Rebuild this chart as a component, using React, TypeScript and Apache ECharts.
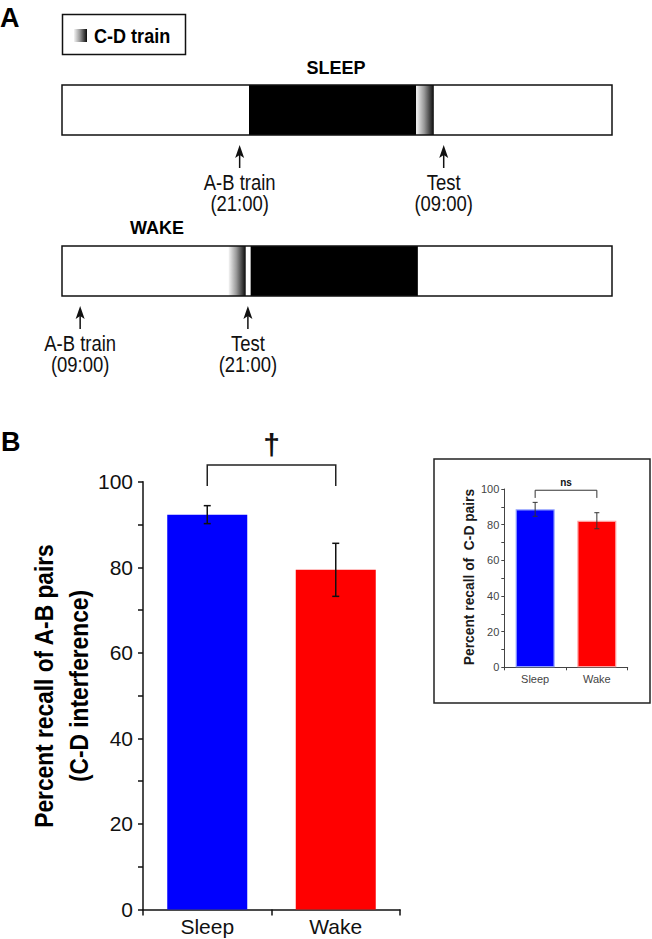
import React, { useEffect, useRef } from 'react';
import * as echarts from 'echarts';

// ---------- data ----------
const groups = ['Sleep', 'Wake'];
// Panel B main: percent recall of A-B pairs (C-D interference)
const abRecall = [92.3, 79.4];
const abSem = [2.1, 6.2];
// Inset: percent recall of C-D pairs
const cdRecall = [88.6, 82.2];
const cdSem = [3.9, 4.5];

// significance brackets (values on the y scale)
const abBracket = { top: 103.9, leg: 99, labelAt: 108.6, label: '\u2020' };
const cdBracket = { top: 99.3, leg: 95, labelAt: 103.6, label: 'ns' };

// Panel A schematic timelines (positions in % of the bar length)
const sleepSegments = [
  { start: 0, end: 100, kind: 'day' },
  { start: 34.0, end: 64.4, kind: 'night' },
  { start: 64.4, end: 67.6, kind: 'cdTrain' },
];
const wakeSegments = [
  { start: 0, end: 100, kind: 'day' },
  { start: 30.3, end: 33.4, kind: 'cdTrain' },
  { start: 34.3, end: 64.7, kind: 'night' },
];
const sleepArrows = [
  { pos: 32.3, label: 'A-B train', time: '(21:00)' },
  { pos: 69.4, label: 'Test', time: '(09:00)' },
];
const wakeArrows = [
  { pos: 3.3, label: 'A-B train', time: '(09:00)' },
  { pos: 33.8, label: 'Test', time: '(21:00)' },
];

// ---------- styles ----------
const NARROW = '"Liberation Sans Narrow", "Liberation Sans", Arial, sans-serif';
const SANS = '"Liberation Sans", Arial, sans-serif';
const INK = '#111111';

const cdGradient = () =>
  new echarts.graphic.LinearGradient(0, 0, 1, 0, [
    { offset: 0, color: '#f4f4f4' },
    { offset: 0.45, color: '#9a9a9a' },
    { offset: 1, color: '#0a0a0a' },
  ]);

function timelineRender(segs: any[]) {
  return (params: any, api: any) => {
    const seg = segs[params.dataIndex];
    const p0 = api.coord([seg.start, 1]);
    const p1 = api.coord([seg.end, 0]);
    const shape = { x: p0[0], y: p0[1], width: p1[0] - p0[0], height: p1[1] - p0[1] };
    if (seg.kind === 'day') {
      return {
        type: 'rect',
        shape,
        z2: 10,
        style: { fill: 'rgba(0,0,0,0)', stroke: INK, lineWidth: 1.5 },
      };
    }
    if (seg.kind === 'night') {
      return { type: 'rect', shape, z2: 2, style: { fill: '#000000' } };
    }
    return { type: 'rect', shape, z2: 2, style: { fill: cdGradient() } };
  };
}

function arrowRender(arrows: any[]) {
  return (params: any, api: any) => {
    const a = arrows[params.dataIndex];
    const p = api.coord([a.pos, 0]);
    const x = p[0];
    const y0 = p[1];
    const tip = y0 + 10;
    return {
      type: 'group',
      children: [
        {
          type: 'line',
          shape: { x1: x, y1: tip + 8, x2: x, y2: y0 + 33 },
          style: { stroke: INK, lineWidth: 1.5 },
        },
        {
          type: 'polygon',
          shape: { points: [[x, tip], [x - 4.5, tip + 13], [x, tip + 10], [x + 4.5, tip + 13]] },
          style: { fill: INK },
        },
        {
          type: 'text',
          x,
          y: y0 + 58,
          scaleX: 0.84,
          style: {
            text: a.label + '\n' + a.time,
            fill: INK,
            font: `22px ${NARROW}`,
            lineHeight: 21.5,
            align: 'center',
            verticalAlign: 'middle',
          },
        },
      ],
    };
  };
}

function errorRender(means: number[], sems: number[], cap: number, lw: number, color: string) {
  return (params: any, api: any) => {
    const i = params.dataIndex;
    const hi = api.coord([i, means[i] + sems[i]]);
    const lo = api.coord([i, means[i] - sems[i]]);
    const x = hi[0];
    return {
      type: 'group',
      children: [
        { type: 'line', shape: { x1: x, y1: hi[1], x2: x, y2: lo[1] }, style: { stroke: color, lineWidth: lw } },
        { type: 'line', shape: { x1: x - cap, y1: hi[1], x2: x + cap, y2: hi[1] }, style: { stroke: color, lineWidth: lw } },
        { type: 'line', shape: { x1: x - cap, y1: lo[1], x2: x + cap, y2: lo[1] }, style: { stroke: color, lineWidth: lw } },
      ],
    };
  };
}

function bracketRender(b: any, lw: number, color: string, font: string) {
  return (params: any, api: any) => {
    const l = api.coord([0, b.top]);
    const r = api.coord([1, b.top]);
    const legL = api.coord([0, b.leg]);
    const lab = api.coord([0.5, b.labelAt]);
    return {
      type: 'group',
      children: [
        {
          type: 'polyline',
          shape: { points: [[l[0], legL[1]], [l[0], l[1]], [r[0], r[1]], [r[0], legL[1]]] },
          style: { stroke: color, lineWidth: lw, fill: null },
        },
        {
          type: 'text',
          x: (l[0] + r[0]) / 2,
          y: lab[1],
          style: { text: b.label, fill: INK, font, align: 'center', verticalAlign: 'middle' },
        },
      ],
    };
  };
}

function buildOption() {
  const hiddenVal = (gridIndex: number, min: number, max: number) => ({
    type: 'value',
    gridIndex,
    min,
    max,
    show: false,
  });
  return {
    animation: false,
    backgroundColor: '#ffffff',
    grid: [
      { left: 62, top: 85, width: 550, height: 50 },
      { left: 62, top: 246, width: 550, height: 50 },
      { left: 143, top: 481.7, width: 257, height: 427.8 },
      { left: 504.3, top: 489, width: 123.4, height: 178.3 },
    ],
    xAxis: [
      hiddenVal(0, 0, 100),
      hiddenVal(1, 0, 100),
      {
        type: 'category',
        gridIndex: 2,
        data: groups,
        axisLine: { lineStyle: { color: INK, width: 1.5 } },
        axisTick: { show: true, length: 6, lineStyle: { color: INK, width: 1.5 } },
        axisLabel: { color: INK, fontFamily: NARROW, fontSize: 21, margin: 6 },
      },
      {
        type: 'category',
        gridIndex: 3,
        data: groups,
        axisLine: { lineStyle: { color: '#444', width: 1 } },
        axisTick: { show: true, length: 3, lineStyle: { color: '#444', width: 1 } },
        axisLabel: { color: '#444', fontFamily: SANS, fontSize: 11, margin: 6 },
      },
    ],
    yAxis: [
      hiddenVal(0, 0, 1),
      hiddenVal(1, 0, 1),
      {
        type: 'value',
        gridIndex: 2,
        min: 0,
        max: 100,
        interval: 10,
        splitLine: { show: false },
        axisLine: { show: true, lineStyle: { color: INK, width: 1.5 } },
        axisTick: { show: true, length: 5, lineStyle: { color: INK, width: 1.5 } },
        axisLabel: {
          color: INK,
          fontFamily: NARROW,
          fontSize: 21,
          margin: 10,
          formatter: (v: number) => (v % 20 === 0 ? String(v) : ''),
        },
      },
      {
        type: 'value',
        gridIndex: 3,
        min: 0,
        max: 100,
        interval: 10,
        splitLine: { show: false },
        axisLine: { show: true, lineStyle: { color: '#444', width: 1 } },
        axisTick: { show: true, length: 3, lineStyle: { color: '#444', width: 1 } },
        axisLabel: {
          color: '#444',
          fontFamily: NARROW,
          fontSize: 11,
          margin: 5,
          formatter: (v: number) => (v % 20 === 0 ? String(v) : ''),
        },
      },
    ],
    series: [
      {
        type: 'custom',
        xAxisIndex: 0,
        yAxisIndex: 0,
        renderItem: timelineRender(sleepSegments),
        data: sleepSegments.map((s) => [s.start, s.end]),
        encode: { x: [0, 1] },
        silent: true,
      },
      {
        type: 'custom',
        xAxisIndex: 0,
        yAxisIndex: 0,
        renderItem: arrowRender(sleepArrows),
        data: sleepArrows.map((a) => [a.pos]),
        encode: { x: 0 },
        silent: true,
      },
      {
        type: 'custom',
        xAxisIndex: 1,
        yAxisIndex: 1,
        renderItem: timelineRender(wakeSegments),
        data: wakeSegments.map((s) => [s.start, s.end]),
        encode: { x: [0, 1] },
        silent: true,
      },
      {
        type: 'custom',
        xAxisIndex: 1,
        yAxisIndex: 1,
        renderItem: arrowRender(wakeArrows),
        data: wakeArrows.map((a) => [a.pos]),
        encode: { x: 0 },
        silent: true,
      },
      {
        type: 'bar',
        xAxisIndex: 2,
        yAxisIndex: 2,
        barWidth: 80,
        data: abRecall.map((v, i) => ({
          value: v,
          itemStyle: { color: i === 0 ? '#0000ff' : '#ff0000' },
        })),
      },
      {
        type: 'custom',
        xAxisIndex: 2,
        yAxisIndex: 2,
        renderItem: errorRender(abRecall, abSem, 3.5, 1.5, INK),
        data: abRecall.map((v, i) => [i, v]),
        z: 5,
      },
      {
        type: 'custom',
        xAxisIndex: 2,
        yAxisIndex: 2,
        renderItem: bracketRender(abBracket, 1.5, '#222', `bold 30px ${SANS}`),
        data: [[0, abBracket.top]],
      },
      {
        type: 'bar',
        xAxisIndex: 3,
        yAxisIndex: 3,
        barWidth: 39,
        data: cdRecall.map((v, i) => ({
          value: v,
          itemStyle: {
            color: i === 0 ? '#0000ff' : '#ff0000',
            borderColor: i === 0 ? '#8c9cff' : '#ff9d9d',
            borderWidth: 1.2,
          },
        })),
      },
      {
        type: 'custom',
        xAxisIndex: 3,
        yAxisIndex: 3,
        renderItem: errorRender(cdRecall, cdSem, 2.5, 1, '#333'),
        data: cdRecall.map((v, i) => [i, v]),
        z: 5,
      },
      {
        type: 'custom',
        xAxisIndex: 3,
        yAxisIndex: 3,
        renderItem: bracketRender(cdBracket, 1, '#333', `bold 10px ${SANS}`),
        data: [[0, cdBracket.top]],
      },
    ],
    graphic: [
      { type: 'text', x: 0, y: 4, style: { text: 'A', fill: '#000', font: `bold 27px ${SANS}` } },
      {
        type: 'rect',
        shape: { x: 62.5, y: 14.5, width: 123, height: 40 },
        style: { fill: '#fff', stroke: INK, lineWidth: 1.5 },
      },
      {
        type: 'rect',
        shape: { x: 74, y: 29, width: 13, height: 13 },
        style: { fill: cdGradient() },
      },
      {
        type: 'text',
        x: 94,
        y: 35.5,
        scaleX: 0.86,
        style: { text: 'C-D train', fill: '#000', font: `bold 21px ${NARROW}`, verticalAlign: 'middle' },
      },
      {
        type: 'text',
        x: 336,
        y: 68,
        style: { text: 'SLEEP', fill: '#000', font: `bold 18px ${SANS}`, align: 'center', verticalAlign: 'middle' },
      },
      {
        type: 'text',
        x: 157,
        y: 228,
        style: { text: 'WAKE', fill: '#000', font: `bold 18px ${SANS}`, align: 'center', verticalAlign: 'middle' },
      },
      { type: 'text', x: 1, y: 428, style: { text: 'B', fill: '#000', font: `bold 27px ${SANS}` } },
      {
        type: 'text',
        x: 44,
        y: 686,
        rotation: Math.PI / 2,
        scaleX: 0.91,
        style: {
          text: 'Percent recall of A-B pairs',
          fill: '#000',
          font: `bold 25px ${NARROW}`,
          align: 'center',
          verticalAlign: 'middle',
        },
      },
      {
        type: 'text',
        x: 79,
        y: 686,
        rotation: Math.PI / 2,
        scaleX: 0.91,
        style: {
          text: '(C-D interference)',
          fill: '#000',
          font: `bold 25px ${NARROW}`,
          align: 'center',
          verticalAlign: 'middle',
        },
      },
      {
        type: 'rect',
        shape: { x: 434, y: 459, width: 216, height: 244 },
        style: { fill: 'rgba(0,0,0,0)', stroke: '#222', lineWidth: 1.5 },
        z: -1,
      },
      {
        type: 'text',
        x: 469,
        y: 577,
        rotation: Math.PI / 2,
        scaleX: 0.92,
        style: {
          text: 'Percent recall of  C-D pairs',
          fill: '#1a1a1a',
          font: `bold 15px ${NARROW}`,
          align: 'center',
          verticalAlign: 'middle',
        },
      },
    ],
  };
}

export default function App() {
  const ref = useRef<HTMLDivElement>(null);
  useEffect(() => {
    if (!ref.current) return;
    const chart = echarts.init(ref.current, undefined, { renderer: 'svg' });
    chart.setOption(buildOption() as any);
    return () => chart.dispose();
  }, []);
  return (
    <div
      ref={ref}
      style={{ position: 'fixed', left: 0, top: 0, width: 652, height: 939, background: '#fff' }}
    />
  );
}
